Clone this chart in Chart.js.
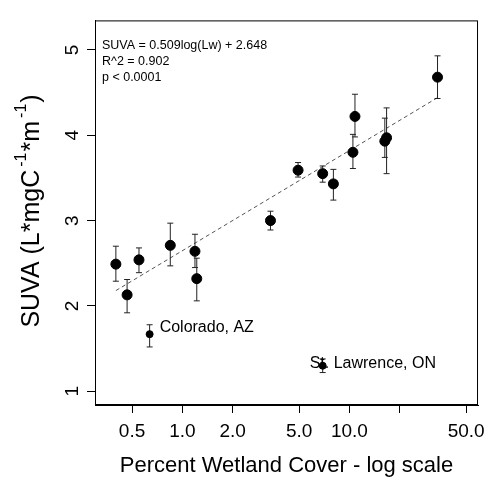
<!DOCTYPE html>
<html>
<head>
<meta charset="utf-8">
<script src="https://cdn.jsdelivr.net/npm/chart.js@4"></script>
<style>
  html, body { margin: 0; padding: 0; background: #fff; }
  #wrap { width: 492px; height: 477px; }
</style>
</head>
<body>
<div id="wrap"><canvas id="chart" width="492" height="477"></canvas></div>
<script>
// Percent wetland cover (x) and SUVA (y), with error bar ends
const wetland  = [0.40, 0.467, 0.55, 0.847, 1.19, 1.22, 3.37, 4.93, 6.92, 8.02, 10.5, 10.8, 16.7, 16.3, 33.7];
const suva     = [2.49, 2.13, 2.54, 2.71, 2.64, 2.32, 3.00, 3.59, 3.55, 3.43, 3.80, 4.22, 3.97, 3.93, 4.68];
const suvaLow  = [2.29, 1.92, 2.39, 2.47, 2.45, 2.06, 2.89, 3.51, 3.45, 3.24, 3.61, 3.98, 3.55, 3.74, 4.43];
const suvaHigh = [2.70, 2.31, 2.68, 2.97, 2.84, 2.56, 3.11, 3.68, 3.64, 3.60, 4.01, 4.48, 4.32, 4.20, 4.93];

// Sites left out of the fit
const outlierNames   = ['Colorado, AZ', 'St. Lawrence, ON'];
const outlierWetland = [0.637, 6.92];
const outlierSuva    = [1.67, 1.30];
const outlierLow     = [1.52, 1.22];
const outlierHigh    = [1.78, 1.38];

// Regression line end points
const fitWetland = [0.40, 33.7];
const fitSuva    = [2.18, 4.44];

const xTicks = [0.5, 1, 2, 5, 10, 20, 50];
const xTickLabels = ['0.5', '1.0', '2.0', '5.0', '10.0', '', '50.0'];
const yTicks = [1, 2, 3, 4, 5];

const statLines = ['SUVA = 0.509log(Lw) + 2.648', 'R^2 = 0.902', 'p < 0.0001'];

const FONT = '"Liberation Sans", Arial, sans-serif';

function errorBars(xs, lo, hi) {
    const out = [];
    xs.forEach((x, i) => {
        out.push({ x: x, y: lo[i] });
        out.push({ x: x, y: hi[i] });
        out.push({ x: x, y: null });
    });
    return out;
}

const frame = {
    id: 'frame',
    afterDraw(chart) {
        const { ctx, chartArea: a, scales } = chart;
        ctx.save();
        ctx.strokeStyle = '#000';
        ctx.lineWidth = 1;
        ctx.strokeRect(a.left + 0.5, a.top + 0.5, a.right - a.left - 1, a.bottom - a.top - 1);

        // stats text
        ctx.fillStyle = '#000';
        ctx.textBaseline = 'middle';
        ctx.textAlign = 'left';
        ctx.font = '12.5px ' + FONT;
        statLines.forEach((t, i) => ctx.fillText(t, a.left + 7, a.top + 25 + i * 16));

        // outlier labels
        ctx.font = '16px ' + FONT;
        const offs = [[10, -7], [-13, -2]];
        outlierNames.forEach((name, i) => {
            const px = scales.x.getPixelForValue(outlierWetland[i]);
            const py = scales.y.getPixelForValue(outlierSuva[i]);
            ctx.fillText(name, px + offs[i][0], py + offs[i][1]);
        });

        // y axis title with superscripts
        const parts = [['SUVA (L*mgC', false], ['-1', true], ['*m', false], ['-1', true], [')', false]];
        const big = '25px ' + FONT, small = '16px ' + FONT;
        let total = 0;
        parts.forEach(p => { ctx.font = p[1] ? small : big; total += ctx.measureText(p[0]).width + (p[1] ? 4 : 0); });
        ctx.translate(32, 211);
        ctx.rotate(-Math.PI / 2);
        let cx = -total / 2;
        parts.forEach(p => {
            ctx.font = p[1] ? small : big;
            if (p[1]) cx += 3;
            ctx.fillText(p[0], cx, p[1] ? -10 : 0);
            cx += ctx.measureText(p[0]).width + (p[1] ? 1 : 0);
        });
        ctx.restore();
    }
};

new Chart(document.getElementById('chart'), {
    type: 'scatter',
    data: {
        datasets: [
            {
                data: wetland.map((x, i) => ({ x: x, y: suva[i] })),
                backgroundColor: '#000',
                borderColor: '#000',
                pointRadius: 5,
                order: 0
            },
            {
                data: outlierWetland.map((x, i) => ({ x: x, y: outlierSuva[i] })),
                backgroundColor: '#000',
                borderColor: '#000',
                pointRadius: 3.5,
                order: 0
            },
            {
                data: errorBars(wetland.concat(outlierWetland), suvaLow.concat(outlierLow), suvaHigh.concat(outlierHigh)),
                showLine: true,
                spanGaps: false,
                borderColor: '#222',
                borderWidth: 1,
                pointStyle: 'line',
                pointRadius: 3,
                pointBorderWidth: 1,
                pointBorderColor: '#222',
                order: 1
            },
            {
                data: fitWetland.map((x, i) => ({ x: x, y: fitSuva[i] })),
                showLine: true,
                borderColor: '#555',
                borderWidth: 1,
                borderDash: [4, 3],
                pointRadius: 0,
                order: 2
            }
        ]
    },
    options: {
        responsive: false,
        animation: false,
        devicePixelRatio: 1,
        layout: { padding: { top: 13, right: 12, left: 0, bottom: 0 } },
        plugins: { legend: { display: false }, tooltip: { enabled: false } },
        scales: {
            x: {
                type: 'logarithmic',
                min: 0.337,
                max: 58.9,
                afterBuildTicks: s => { s.ticks = xTicks.map(v => ({ value: v })); },
                afterFit: s => { s.height = 72; },
                grid: { drawOnChartArea: false, drawTicks: true, tickLength: 8, tickColor: '#000' },
                border: { display: true, color: '#000' },
                ticks: {
                    autoSkip: false,
                    maxRotation: 0,
                    padding: 7,
                    color: '#000',
                    font: { family: FONT, size: 19 },
                    callback: (v, i) => xTickLabels[i]
                },
                title: {
                    display: true,
                    text: 'Percent Wetland Cover - log scale',
                    color: '#000',
                    font: { family: FONT, size: 22, lineHeight: 1.0 },
                    padding: { top: 0, bottom: 0 }
                }
            },
            y: {
                min: 0.84,
                max: 5.345,
                afterBuildTicks: s => { s.ticks = yTicks.map(v => ({ value: v })); },
                afterFit: s => { s.width = 95; },
                grid: { drawOnChartArea: false, drawTicks: true, tickLength: 8, tickColor: '#000' },
                border: { display: true, color: '#000' },
                ticks: {
                    minRotation: 90,
                    maxRotation: 90,
                    crossAlign: 'center',
                    padding: 9,
                    color: '#000',
                    font: { family: FONT, size: 19 }
                }
            }
        }
    },
    plugins: [frame]
});
</script>
</body>
</html>
